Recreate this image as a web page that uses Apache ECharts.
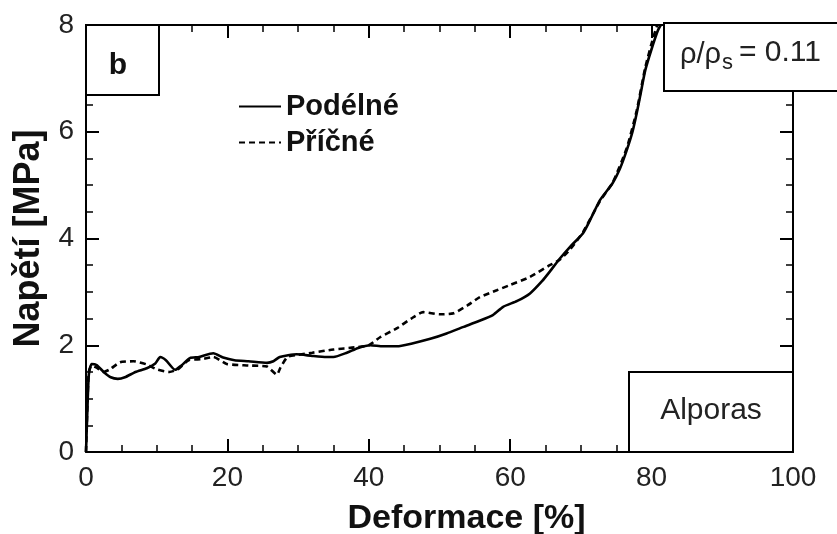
<!DOCTYPE html>
<html>
<head>
<meta charset="utf-8">
<script src="https://cdn.jsdelivr.net/npm/echarts@6/dist/echarts.min.js"></script>
<style>
html, body { margin: 0; padding: 0; background: #fff; }
#main { width: 837px; height: 534px; }
</style>
</head>
<body>
<div id="main"></div>
<script>
var chart = echarts.init(document.getElementById('main'));

// deformace [%], napeti [MPa]
var podelne = [[0,0],[0.2,0.8],[0.4,1.45],[0.8,1.65],[1.5,1.63],[2.5,1.5],[3.5,1.4],[4.5,1.37],[5.5,1.4],[7,1.5],
  [8.6,1.57],[9.8,1.66],[10.5,1.78],[11.3,1.72],[12.6,1.54],[13.5,1.62],[14.7,1.76],[16,1.78],[18,1.85],[19.4,1.77],
  [21,1.72],[23,1.7],[25.6,1.67],[26.5,1.7],[27.4,1.78],[29.8,1.83],[32,1.8],[34,1.78],[35,1.78],[36.9,1.86],
  [38.5,1.95],[40.2,2.0],[42,1.98],[44,1.98],[46,2.03],[48.7,2.12],[51,2.22],[53.3,2.34],[55.5,2.45],[57.6,2.57],
  [59,2.72],[61,2.83],[62.8,2.97],[64.5,3.2],[65.6,3.38],[67,3.62],[68.5,3.85],[70.3,4.1],[71.5,4.4],[72.7,4.72],
  [74.5,5.04],[75.5,5.3],[76.5,5.66],[77.3,6.0],[77.9,6.35],[78.5,6.75],[79.1,7.15],[80,7.55],[80.9,7.9],[81.3,8.0]];

var pricne = [[0,0],[0.2,0.9],[0.4,1.5],[0.8,1.62],[1.5,1.58],[2.5,1.5],[3.4,1.55],[4.8,1.68],[6.7,1.7],[8.6,1.64],
  [10,1.55],[11.8,1.5],[13,1.55],[14.5,1.72],[16.4,1.74],[18,1.78],[19.9,1.65],[23,1.62],[25.6,1.6],[27,1.45],
  [27.5,1.58],[28.5,1.78],[30,1.82],[32,1.86],[35,1.92],[38,1.96],[40,2.0],[41.6,2.15],[44,2.32],[46,2.5],
  [47.7,2.62],[50,2.58],[52,2.6],[54,2.75],[55.7,2.9],[58.1,3.03],[60,3.13],[62.8,3.28],[65.6,3.5],[67,3.6],
  [68.5,3.8],[70.3,4.12],[72.7,4.7],[74.5,5.05],[76.5,5.7],[77.9,6.4],[79.1,7.2],[80.2,7.75],[80.8,8.0]];

var seriesNames = ['Podélné', 'Příčné'];
var xTicks = [0, 20, 40, 60, 80, 100];
var yTicks = [0, 2, 4, 6, 8];

var font = 'Liberation Sans, Arial, sans-serif';
var axisLine = { show: true, onZero: false, lineStyle: { color: '#000', width: 2 } };
var tick = { show: true, inside: true, length: 13, lineStyle: { color: '#000', width: 2 } };
var minor = { show: true, splitNumber: 4, length: 7, lineStyle: { color: '#000', width: 1.5 } };

var option = {
  backgroundColor: '#fff',
  animation: false,
  textStyle: { fontFamily: font },
  grid: { left: 86, right: 44, top: 25, bottom: 82, containLabel: false, outerBoundsMode: 'none' },
  legend: {
    data: seriesNames,
    orient: 'vertical',
    left: 233,
    top: 87,
    itemWidth: 42,
    itemHeight: 14,
    itemGap: 7,
    itemStyle: { opacity: 0 },
    textStyle: { fontFamily: font, fontSize: 29, fontWeight: 'bold', color: '#111' }
  },
  xAxis: [{
    type: 'value', min: xTicks[0], max: xTicks[xTicks.length - 1], interval: 20,
    name: 'Deformace [%]', nameLocation: 'middle', nameGap: 50,
    nameTextStyle: { fontFamily: font, fontSize: 34, fontWeight: 'bold', color: '#111', padding: [0, 0, 0, 54] },
    axisLine: axisLine, axisTick: tick, minorTick: minor,
    axisLabel: { fontFamily: font, fontSize: 28, color: '#222', margin: 12 },
    splitLine: { show: false }
  }, {
    type: 'value', position: 'top', min: 0, max: 100, interval: 20,
    axisLine: axisLine, axisTick: tick, minorTick: minor,
    axisLabel: { show: false }, splitLine: { show: false }
  }],
  yAxis: [{
    type: 'value', min: yTicks[0], max: yTicks[yTicks.length - 1], interval: 2,
    name: 'Napětí [MPa]', nameLocation: 'middle', nameGap: 38,
    nameTextStyle: { fontFamily: font, fontSize: 36, fontWeight: 'bold', color: '#111' },
    axisLine: axisLine, axisTick: tick, minorTick: minor,
    axisLabel: { fontFamily: font, fontSize: 28, color: '#222', margin: 12 },
    splitLine: { show: false }
  }, {
    type: 'value', position: 'right', min: 0, max: 8, interval: 2,
    axisLine: axisLine, axisTick: tick, minorTick: minor,
    axisLabel: { show: false }, splitLine: { show: false }
  }],
  series: [{
    name: seriesNames[0], type: 'line', data: podelne,
    symbol: 'none', showSymbol: false, smooth: 0.2,
    lineStyle: { color: '#000', width: 2.6 },
    itemStyle: { color: '#000' }
  }, {
    name: seriesNames[1], type: 'line', data: pricne,
    symbol: 'none', showSymbol: false, smooth: 0.2,
    lineStyle: { color: '#000', width: 2.6, type: [6, 4] },
    itemStyle: { color: '#000' }
  }],
  graphic: [
    { type: 'rect', z: 100, shape: { x: 86, y: 25, width: 73, height: 70 },
      style: { fill: '#fff', stroke: '#000', lineWidth: 2 } },
    { type: 'text', z: 101, x: 118, y: 66,
      style: { text: 'b', fontFamily: font, fontSize: 30, fontWeight: 'bold', fill: '#111', align: 'center', verticalAlign: 'middle' } },
    { type: 'rect', z: 100, shape: { x: 664, y: 23, width: 200, height: 68 },
      style: { fill: '#fff', stroke: '#000', lineWidth: 2 } },
    { type: 'text', z: 101, x: 680, y: 55,
      style: { text: 'ρ/ρ', fontFamily: font, fontSize: 29, fill: '#222', align: 'left', verticalAlign: 'middle' } },
    { type: 'text', z: 101, x: 722, y: 63,
      style: { text: 's', fontFamily: font, fontSize: 22, fill: '#222', align: 'left', verticalAlign: 'middle' } },
    { type: 'text', z: 101, x: 739, y: 53,
      style: { text: '= 0.11', fontFamily: font, fontSize: 30, fill: '#222', align: 'left', verticalAlign: 'middle' } },
    { type: 'rect', z: 100, shape: { x: 629, y: 372, width: 164, height: 80 },
      style: { fill: '#fff', stroke: '#000', lineWidth: 2 } },
    { type: 'text', z: 101, x: 711, y: 411,
      style: { text: 'Alporas', fontFamily: font, fontSize: 30, fill: '#222', align: 'center', verticalAlign: 'middle' } }
  ]
};

chart.setOption(option);
</script>
</body>
</html>
